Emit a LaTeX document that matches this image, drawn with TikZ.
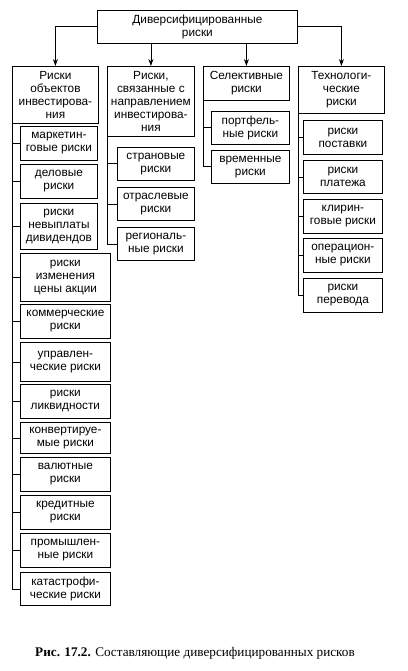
\documentclass[tikz,border=0pt]{standalone}
\usepackage{fontspec}
\setmainfont{Liberation Serif}
\setsansfont{Liberation Sans}
\usetikzlibrary{arrows.meta}

\tikzset{
  rbox/.style={draw, anchor=north west, align=center, inner sep=0pt,
    font=\sffamily\fontsize{11.8}{13}\selectfont}
}

\begin{document}
\begin{tikzpicture}[x=1pt,y=-1pt,>={Stealth[length=7pt,width=5pt]},line width=0.8pt]
\useasboundingbox (0,0) rectangle (407,671);

% Top box
\node[rbox, minimum width=200, minimum height=33] (main) at (97,10) {Диверсифицированные\\риски};

% Column heads
\node[rbox, minimum width=86, minimum height=57] (c1) at (12,66) {Риски\\объектов\\инвестирова-\\ния};
\node[rbox, minimum width=87, minimum height=70] (c2) at (107,66) {Риски,\\связанные с\\направлением\\инвестирова-\\ния};
\node[rbox, minimum width=86, minimum height=34] (c3) at (203,66) {Селективные\\риски};
\node[rbox, minimum width=86, minimum height=47] (c4) at (298,66) {Технологи-\\ческие\\риски};

% Arrows from top box
\draw[->] (main.west) -| (c1.north);
\draw[->] (main.south -| c2.north) -- (c2.north);
\draw[->] (main.south -| c3.north) -- (c3.north);
\draw[->] (main.east) -| (c4.north);

% First column
\node[rbox, minimum width=77, minimum height=34] (a1) at (20,126) {маркетин-\\говые риски};
\node[rbox, minimum width=77, minimum height=34] (a2) at (20,164) {деловые\\риски};
\node[rbox, minimum width=77, minimum height=46] (a3) at (20,203) {риски\\невыплаты\\дивидендов};
\node[rbox, minimum width=90, minimum height=48] (a4) at (20,253) {риски\\изменения\\цены акции};
\node[rbox, minimum width=90, minimum height=34] (a5) at (20,304) {коммерческие\\риски};
\node[rbox, minimum width=90, minimum height=39] (a6) at (20,342) {управлен-\\ческие риски};
\node[rbox, minimum width=90, minimum height=34] (a7) at (20,384) {риски\\ликвидности};
\node[rbox, minimum width=90, minimum height=31] (a8) at (20,422) {конвертируе-\\мые риски};
\node[rbox, minimum width=90, minimum height=34] (a9) at (20,457) {валютные\\риски};
\node[rbox, minimum width=90, minimum height=34] (a10) at (20,495) {кредитные\\риски};
\node[rbox, minimum width=90, minimum height=34] (a11) at (20,533) {промышлен-\\ные риски};
\node[rbox, minimum width=90, minimum height=33] (a12) at (20,572) {катастрофи-\\ческие риски};
\draw (c1.south west) |- (a12.west);
\foreach \n in {a1,a2,a3,a4,a5,a6,a7,a8,a9,a10,a11}
  \draw (c1.south west |- \n.west) -- (\n.west);

% Second column
\node[rbox, minimum width=77, minimum height=33] (b1) at (117,147) {страновые\\риски};
\node[rbox, minimum width=77, minimum height=33] (b2) at (117,187) {отраслевые\\риски};
\node[rbox, minimum width=77, minimum height=33] (b3) at (117,227) {региональ-\\ные риски};
\draw (c2.south west) |- (b3.west);
\foreach \n in {b1,b2}
  \draw (c2.south west |- \n.west) -- (\n.west);

% Third column
\node[rbox, minimum width=78, minimum height=33] (d1) at (211,111) {портфель-\\ные риски};
\node[rbox, minimum width=78, minimum height=33] (d2) at (211,150) {временные\\риски};
\draw (c3.south west) |- (d2.west);
\draw (c3.south west |- d1.west) -- (d1.west);

% Fourth column
\node[rbox, minimum width=79, minimum height=34] (e1) at (303,120) {риски\\поставки};
\node[rbox, minimum width=79, minimum height=33] (e2) at (303,160) {риски\\платежа};
\node[rbox, minimum width=79, minimum height=34] (e3) at (303,199) {клирин-\\говые риски};
\node[rbox, minimum width=79, minimum height=34] (e4) at (303,238) {операцион-\\ные риски};
\node[rbox, minimum width=79, minimum height=34] (e5) at (303,278) {риски\\перевода};
\draw (c4.south west) |- (e5.west);
\foreach \n in {e1,e2,e3,e4}
  \draw (c4.south west |- \n.west) -- (\n.west);

% Caption
\node[font=\fontsize{13.2}{15}\selectfont] (cap) at (195,653) {\textbf{Рис. 17.2.} Составляющие диверсифицированных рисков};

\end{tikzpicture}
\end{document}
